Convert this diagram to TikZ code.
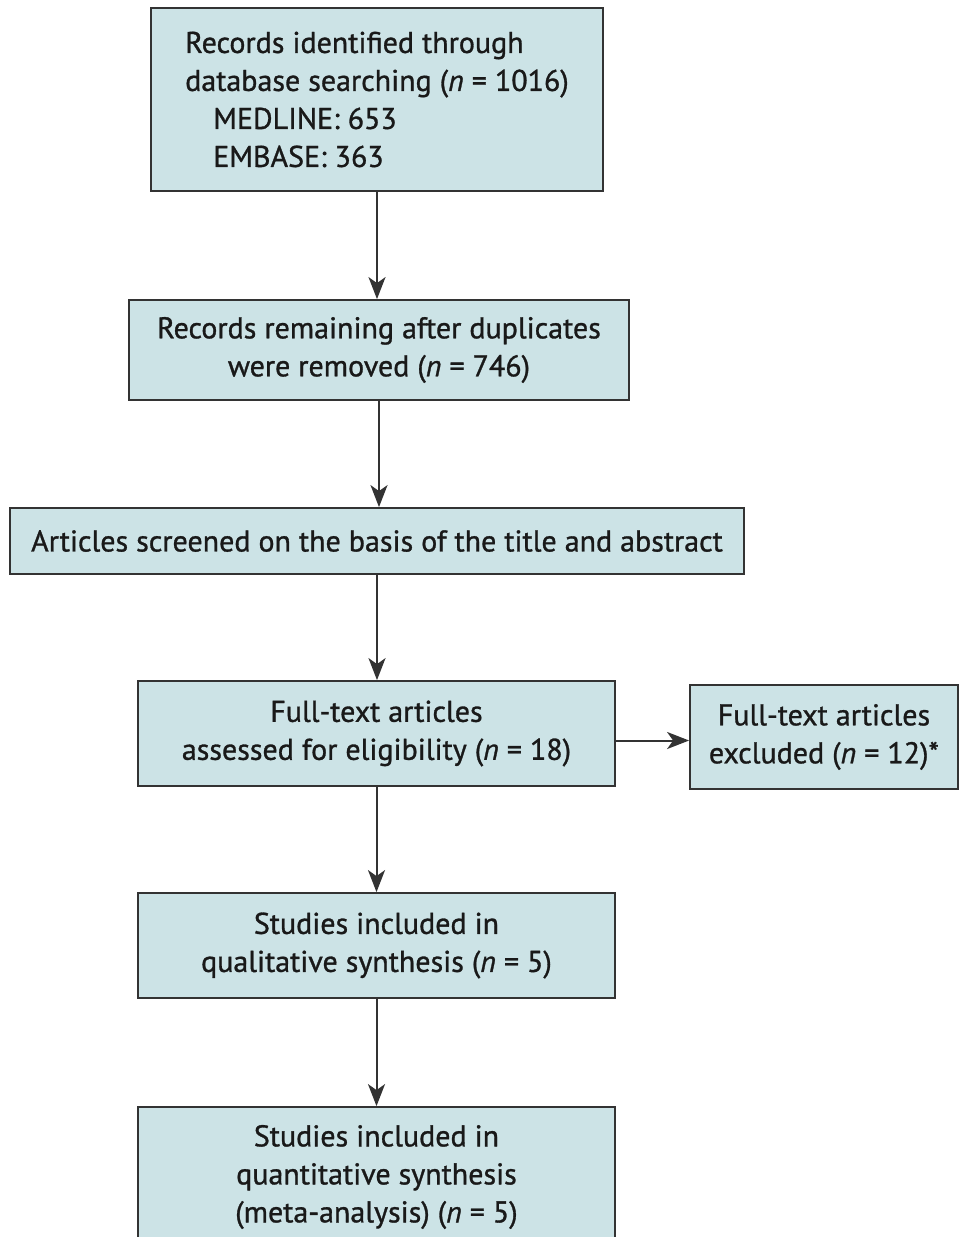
\documentclass[tikz,border=0pt]{standalone}
\usepackage{fontspec}
\setmainfont[FakeBold=1]{PT Sans}
\usetikzlibrary{arrows.meta}
\definecolor{boxfill}{HTML}{CCE3E6}
\definecolor{boxline}{HTML}{333333}

\begin{document}
\begin{tikzpicture}[x=1pt,y=-1pt,
			box/.style={draw=boxline, line width=1.8pt, fill=boxfill, inner sep=0pt, align=center, text=black!90, font=\fontsize{30}{38}\selectfont},
			arrow/.style={-{Stealth[length=22pt,width=17pt,inset=6pt]}, line width=2pt, draw=boxline}
			]
			\useasboundingbox (0,0) rectangle (959,1237);
			\node[box, minimum width=452, minimum height=183, align=left] (records) at (377,99.5) {Records identified through\\database searching (\textit{n} = 1016)\\\hspace*{28pt}MEDLINE: 653\\\hspace*{28pt}EMBASE: 363};
			\node[box, minimum width=500, minimum height=100] (remaining) at (379,350) {Records remaining after duplicates\\were removed (\textit{n} = 746)};
			\node[box, minimum width=734, minimum height=66] (screened) at (377,541) {Articles screened on the basis of the title and abstract};
			\node[box, minimum width=477, minimum height=105] (fulltext) at (376.5,733.5) {Full-text articles\\assessed for eligibility (\textit{n} = 18)};
			\node[box, minimum width=268, minimum height=104] (excluded) at (824,737) {Full-text articles\\excluded (\textit{n} = 12)*};
			\node[box, minimum width=477, minimum height=105] (qualitative) at (376.5,945.5) {Studies included in\\qualitative synthesis (\textit{n} = 5)};
			\node[box, minimum width=477, minimum height=140] (quantitative) at (376.5,1177) {Studies included in\\quantitative synthesis\\(meta-analysis) (\textit{n} = 5)};
			\draw[arrow] (records.south) -- (records.south |- remaining.north);
			\draw[arrow] (remaining.south) -- (remaining.south |- screened.north);
			\draw[arrow] (screened.south) -- (screened.south |- fulltext.north);
			\draw[arrow] (fulltext.south) -- (fulltext.south |- qualitative.north);
			\draw[arrow] (qualitative.south) -- (qualitative.south |- quantitative.north);
			\draw[arrow] ([yshift=-7]fulltext.east) -- ([yshift=-7]fulltext.east -| excluded.west);
		\end{tikzpicture}
\end{document}
